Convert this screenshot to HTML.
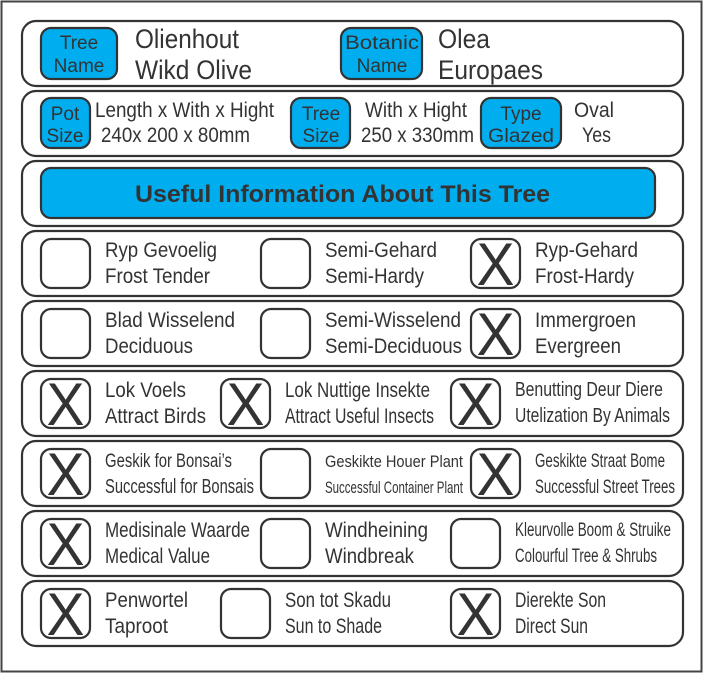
<!DOCTYPE html>
<html><head><meta charset="utf-8"><style>
html,body{margin:0;padding:0;background:#fff;}
svg{display:block;}
text{font-family:"Liberation Sans",Arial,sans-serif;fill:#333;}
</style></head><body>
<svg width="703" height="673" viewBox="0 0 703 673" xmlns="http://www.w3.org/2000/svg">
<rect x="1.5" y="1.5" width="700" height="670" fill="#fff" stroke="#444" stroke-width="2"/>
<g fill="#fff" stroke="#333" stroke-width="2.2">
<rect x="22" y="21" width="661" height="65" rx="14"/>
<rect x="22" y="91" width="661" height="65" rx="14"/>
<rect x="22" y="161" width="661" height="65" rx="14"/>
<rect x="22" y="231" width="661" height="65" rx="14"/>
<rect x="22" y="301" width="661" height="65" rx="14"/>
<rect x="22" y="371" width="661" height="65" rx="14"/>
<rect x="22" y="441" width="661" height="65" rx="14"/>
<rect x="22" y="511" width="661" height="65" rx="14"/>
<rect x="22" y="581" width="661" height="65" rx="14"/>
</g>
<g fill="#00aeef" stroke="#333" stroke-width="2.2">
<rect x="41" y="28" width="76" height="51" rx="10"/>
<rect x="341" y="28" width="81" height="51" rx="10"/>
<rect x="41" y="98" width="49" height="50" rx="10"/>
<rect x="291" y="98" width="59" height="50" rx="10"/>
<rect x="481" y="98" width="80" height="50" rx="10"/>
<rect x="41" y="168" width="614" height="50" rx="10"/>
</g>
<g font-size="19" text-anchor="middle">
<text x="79" y="49">Tree</text><text x="79" y="72">Name</text>
<text x="382" y="49" textLength="74" lengthAdjust="spacingAndGlyphs">Botanic</text><text x="382" y="72">Name</text>
<text x="65" y="120">Pot</text><text x="65" y="142">Size</text>
<text x="321" y="120">Tree</text><text x="321" y="142">Size</text>
<text x="521" y="120">Type</text><text x="521" y="142" textLength="66" lengthAdjust="spacingAndGlyphs">Glazed</text>
</g>
<g font-size="27">
<text x="135" y="48" textLength="104" lengthAdjust="spacingAndGlyphs">Olienhout</text>
<text x="135" y="79" textLength="117" lengthAdjust="spacingAndGlyphs">Wikd Olive</text>
<text x="438" y="48" textLength="52" lengthAdjust="spacingAndGlyphs">Olea</text>
<text x="438" y="79" textLength="105" lengthAdjust="spacingAndGlyphs">Europaes</text>
</g>
<g font-size="21">
<text x="95" y="117" textLength="179" lengthAdjust="spacingAndGlyphs">Length x With x Hight</text>
<text x="101" y="142" textLength="149" lengthAdjust="spacingAndGlyphs">240x 200 x 80mm</text>
<text x="365" y="117" textLength="102" lengthAdjust="spacingAndGlyphs">With x Hight</text>
<text x="361" y="142" textLength="113" lengthAdjust="spacingAndGlyphs">250 x 330mm</text>
<text x="574" y="117" textLength="40" lengthAdjust="spacingAndGlyphs">Oval</text>
<text x="582" y="142" textLength="29" lengthAdjust="spacingAndGlyphs">Yes</text>
</g>
<text x="135" y="202" font-size="24" font-weight="bold" textLength="415" lengthAdjust="spacingAndGlyphs">Useful Information About This Tree</text>
<g fill="#fff" stroke="#333" stroke-width="2.2">
<rect x="41" y="239" width="49" height="49" rx="10"/>
<rect x="261" y="239" width="49" height="49" rx="10"/>
<rect x="471" y="239" width="49" height="49" rx="10"/>
<rect x="41" y="309" width="49" height="49" rx="10"/>
<rect x="261" y="309" width="49" height="49" rx="10"/>
<rect x="471" y="309" width="49" height="49" rx="10"/>
<rect x="41" y="379" width="49" height="49" rx="10"/>
<rect x="221" y="379" width="49" height="49" rx="10"/>
<rect x="451" y="379" width="49" height="49" rx="10"/>
<rect x="41" y="449" width="49" height="49" rx="10"/>
<rect x="261" y="449" width="49" height="49" rx="10"/>
<rect x="471" y="449" width="49" height="49" rx="10"/>
<rect x="41" y="519" width="49" height="49" rx="10"/>
<rect x="261" y="519" width="49" height="49" rx="10"/>
<rect x="451" y="519" width="49" height="49" rx="10"/>
<rect x="41" y="589" width="49" height="49" rx="10"/>
<rect x="221" y="589" width="49" height="49" rx="10"/>
<rect x="451" y="589" width="49" height="49" rx="10"/>
</g>
<g font-size="60" text-anchor="middle">
<text x="495.5" y="285" textLength="38" lengthAdjust="spacingAndGlyphs">X</text>
<text x="495.5" y="355" textLength="38" lengthAdjust="spacingAndGlyphs">X</text>
<text x="65.5" y="425" textLength="38" lengthAdjust="spacingAndGlyphs">X</text>
<text x="245.5" y="425" textLength="38" lengthAdjust="spacingAndGlyphs">X</text>
<text x="475.5" y="425" textLength="38" lengthAdjust="spacingAndGlyphs">X</text>
<text x="65.5" y="495" textLength="38" lengthAdjust="spacingAndGlyphs">X</text>
<text x="495.5" y="495" textLength="38" lengthAdjust="spacingAndGlyphs">X</text>
<text x="65.5" y="565" textLength="38" lengthAdjust="spacingAndGlyphs">X</text>
<text x="65.5" y="635" textLength="38" lengthAdjust="spacingAndGlyphs">X</text>
<text x="475.5" y="635" textLength="38" lengthAdjust="spacingAndGlyphs">X</text>
</g>
<g font-size="21">
<text x="105" y="257" textLength="112" lengthAdjust="spacingAndGlyphs">Ryp Gevoelig</text>
<text x="105" y="283" textLength="105" lengthAdjust="spacingAndGlyphs">Frost Tender</text>
<text x="325" y="257" textLength="112" lengthAdjust="spacingAndGlyphs">Semi-Gehard</text>
<text x="325" y="283" textLength="99" lengthAdjust="spacingAndGlyphs">Semi-Hardy</text>
<text x="535" y="257" textLength="103" lengthAdjust="spacingAndGlyphs">Ryp-Gehard</text>
<text x="535" y="283" textLength="99" lengthAdjust="spacingAndGlyphs">Frost-Hardy</text>

<text x="105" y="327" textLength="130" lengthAdjust="spacingAndGlyphs">Blad Wisselend</text>
<text x="105" y="353" textLength="88" lengthAdjust="spacingAndGlyphs">Deciduous</text>
<text x="325" y="327" textLength="136" lengthAdjust="spacingAndGlyphs">Semi-Wisselend</text>
<text x="325" y="353" textLength="137" lengthAdjust="spacingAndGlyphs">Semi-Deciduous</text>
<text x="535" y="327" textLength="101" lengthAdjust="spacingAndGlyphs">Immergroen</text>
<text x="535" y="353" textLength="86" lengthAdjust="spacingAndGlyphs">Evergreen</text>

<text x="105" y="397" textLength="81" lengthAdjust="spacingAndGlyphs">Lok Voels</text>
<text x="105" y="423" textLength="101" lengthAdjust="spacingAndGlyphs">Attract Birds</text>
<text x="285" y="397" textLength="145" lengthAdjust="spacingAndGlyphs">Lok Nuttige Insekte</text>
<text x="285" y="423" textLength="149" lengthAdjust="spacingAndGlyphs">Attract Useful Insects</text>
<text x="515" y="396" textLength="148" lengthAdjust="spacingAndGlyphs" font-size="20">Benutting Deur Diere</text>
<text x="515" y="422" textLength="155" lengthAdjust="spacingAndGlyphs" font-size="20">Utelization By Animals</text>

<text x="105" y="467" textLength="127" lengthAdjust="spacingAndGlyphs" font-size="19">Geskik for Bonsai’s</text>
<text x="105" y="493" textLength="149" lengthAdjust="spacingAndGlyphs" font-size="20">Successful for Bonsais</text>
<text x="325" y="467" textLength="138" lengthAdjust="spacingAndGlyphs" font-size="17">Geskikte Houer Plant</text>
<text x="325" y="493" textLength="138" lengthAdjust="spacingAndGlyphs" font-size="17">Successful Container Plant</text>
<text x="535" y="467" textLength="130" lengthAdjust="spacingAndGlyphs" font-size="19">Geskikte Straat Bome</text>
<text x="535" y="493" textLength="140" lengthAdjust="spacingAndGlyphs" font-size="19">Successful Street Trees</text>

<text x="105" y="537" textLength="145" lengthAdjust="spacingAndGlyphs">Medisinale Waarde</text>
<text x="105" y="563" textLength="105" lengthAdjust="spacingAndGlyphs">Medical Value</text>
<text x="325" y="537" textLength="103" lengthAdjust="spacingAndGlyphs">Windheining</text>
<text x="325" y="563" textLength="89" lengthAdjust="spacingAndGlyphs">Windbreak</text>
<text x="515" y="536" textLength="156" lengthAdjust="spacingAndGlyphs" font-size="19">Kleurvolle Boom &amp; Struike</text>
<text x="515" y="562" textLength="142" lengthAdjust="spacingAndGlyphs" font-size="19">Colourful Tree &amp; Shrubs</text>

<text x="105" y="607" textLength="83" lengthAdjust="spacingAndGlyphs">Penwortel</text>
<text x="105" y="633" textLength="63" lengthAdjust="spacingAndGlyphs">Taproot</text>
<text x="285" y="607" textLength="106" lengthAdjust="spacingAndGlyphs">Son tot Skadu</text>
<text x="285" y="633" textLength="97" lengthAdjust="spacingAndGlyphs">Sun to Shade</text>
<text x="515" y="607" textLength="91" lengthAdjust="spacingAndGlyphs">Dierekte Son</text>
<text x="515" y="633" textLength="73" lengthAdjust="spacingAndGlyphs">Direct Sun</text>
</g>
</svg>
</body></html>
